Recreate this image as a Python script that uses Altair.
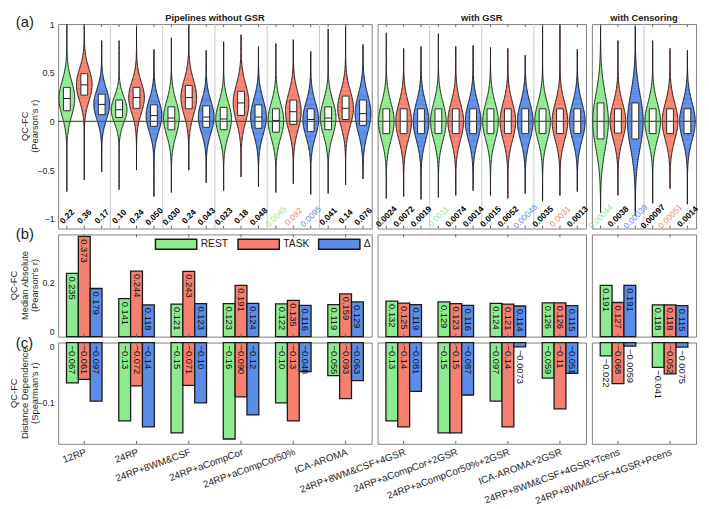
import altair as alt
import numpy as np
import pandas as pd

FONT = "Liberation Sans"

pipelines = ["12RP", "24RP", "24RP+8WM&CSF", "24RP+aCompCor", "24RP+aCompCor50%", "ICA-AROMA",
             "24RP+8WM&CSF+4GSR", "24RP+aCompCor+2GSR", "24RP+aCompCor50%+2GSR", "ICA-AROMA+2GSR",
             "24RP+8WM&CSF+4GSR+Tcens", "24RP+8WM&CSF+4GSR+Pcens"]
group_names = ["Pipelines without GSR", "with GSR", "with Censoring"]
group_sizes = [6, 4, 2]
series = ["REST", "TASK", "Δ"]
series_colors = ["#8EEA8E", "#F6806F", "#5A8CE8"]
highlight_colors = ["#72DE72", "#F26453", "#6C9BF2"]
ytitle_a = ["QC-FC", "(Pearson's r)"]
ytitle_b = ["QC-FC", "Median Absolute", "(Pearson's r)"]
ytitle_c = ["QC-FC", "Distance Dependence", "(Spearman's r)"]

# (a) QC-FC distributions: one row per pipeline, columns [REST, TASK, Δ]
vio_median = [[0.235, 0.376, 0.175], [0.12, 0.245, 0.06], [0.035, 0.245, 0.045], [0.025, 0.19, 0.045],
              [0.01, 0.10, 0.02], [0.035, 0.135, 0.08], [0.0, 0.0, 0.0], [0.0, 0.0, 0.0],
              [0.0, 0.0, 0.0], [0.0, 0.0, 0.0], [0.0, 0.0, 0.0], [0.0, 0.0, 0.0]]
vio_q1 = [[0.11, 0.27, 0.07], [0.04, 0.135, -0.05], [-0.086, 0.13, -0.06], [-0.085, 0.06, -0.07],
          [-0.11, -0.03, -0.105], [-0.085, 0.02, -0.04], [-0.125, -0.125, -0.125], [-0.125, -0.125, -0.125],
          [-0.125, -0.125, -0.125], [-0.125, -0.125, -0.125], [-0.18, -0.12, -0.18], [-0.125, -0.125, -0.125]]
vio_q3 = [[0.35, 0.49, 0.28], [0.22, 0.35, 0.17], [0.15, 0.37, 0.16], [0.145, 0.31, 0.17],
          [0.13, 0.22, 0.13], [0.15, 0.26, 0.22], [0.13, 0.13, 0.13], [0.13, 0.13, 0.13],
          [0.13, 0.13, 0.13], [0.13, 0.13, 0.13], [0.19, 0.13, 0.19], [0.13, 0.13, 0.13]]
vio_low = [[-0.72, -0.60, -0.52], [-0.70, -0.50, -0.77], [-0.73, -0.50, -0.63], [-0.71, -0.57, -0.67],
           [-0.73, -0.64, -0.75], [-0.74, -0.65, -0.59], [-0.79, -0.77, -0.80], [-0.78, -0.76, -0.71],
           [-0.76, -0.79, -0.74], [-0.82, -0.76, -0.72], [-0.94, -0.76, -0.97], [-0.84, -0.69, -0.85]]
vio_high = [[1.0, 1.0, 0.83], [0.83, 1.0, 0.74], [0.86, 1.0, 0.73], [0.82, 0.89, 0.77],
            [0.80, 0.84, 0.72], [0.95, 1.0, 0.79], [0.91, 0.75, 0.77], [0.90, 0.77, 0.78],
            [0.76, 0.75, 0.68], [0.99, 1.0, 0.74], [1.0, 0.83, 0.98], [0.83, 0.75, 0.73]]
pct_edges = [[0.22, 0.36, 0.17], [0.10, 0.24, 0.050], [0.030, 0.24, 0.043], [0.023, 0.18, 0.048],
             [0.0045, 0.092, 0.0095], [0.041, 0.14, 0.076], [0.0024, 0.0072, 0.0019], [0.0011, 0.0074, 0.0014],
             [0.0015, 0.0052, 0.00046], [0.0035, 0.0031, 0.0013], [0.00044, 0.0038, 0.00039],
             [0.00097, 0.00051, 0.0014]]
pct_highlight = [[0, 0, 0], [0, 0, 0], [0, 0, 0], [0, 0, 0], [1, 1, 1], [0, 0, 0],
                 [0, 0, 0], [1, 0, 0], [0, 0, 1], [0, 1, 0], [1, 0, 1], [0, 1, 0]]

# (b) median absolute QC-FC
med_abs = [[0.235, 0.373, 0.179], [0.141, 0.244, 0.118], [0.121, 0.243, 0.123], [0.123, 0.191, 0.124],
           [0.122, 0.135, 0.116], [0.119, 0.159, 0.129], [0.132, 0.125, 0.119], [0.129, 0.123, 0.116],
           [0.124, 0.121, 0.114], [0.126, 0.126, 0.115], [0.191, 0.127, 0.191], [0.118, 0.118, 0.115]]
# (c) distance dependence
dist_dep = [[-0.067, -0.061, -0.097], [-0.13, -0.072, -0.14], [-0.15, -0.071, -0.10], [-0.16, -0.090, -0.12],
            [-0.10, -0.13, -0.048], [-0.055, -0.093, -0.063], [-0.13, -0.14, -0.081], [-0.15, -0.15, -0.087],
            [-0.097, -0.14, -0.0073], [-0.059, -0.11, -0.051], [-0.022, -0.068, -0.0059],
            [-0.041, -0.052, -0.0075]]

WIDTHS = [319, 212, 106]
HA, HB, HC = 208, 104, 103
VHW = 0.15   # violin max half width (in pipeline units)
BHW = 0.065  # box half width
NPTS = 121
LH = 11      # axis title line spacing (px)
INK = "#1a1a1a"
TICK = 3     # inward tick length (px)

stat_rows, vio_rows = [], []
start = 0
for g, n in enumerate(group_sizes):
    for pl in range(n):
        p = start + pl
        for s in range(3):
            base = dict(g=g, pl=pl, s=s, pname=pipelines[p], series=series[s],
                        med=vio_median[p][s], q1=vio_q1[p][s], q3=vio_q3[p][s],
                        pct=pct_edges[p][s], hl=pct_highlight[p][s],
                        mabs=med_abs[p][s], dd=dist_dep[p][s], vid=f"{p}_{s}")
            stat_rows.append(base)
            grid = np.linspace(vio_low[p][s], vio_high[p][s], NPTS)
            for k in range(NPTS):
                r2 = grid[k + 1] if k + 1 < NPTS else grid[k]
                vio_rows.append(dict(g=g, pl=pl, s=s, series=series[s], med=vio_median[p][s],
                                     q1=vio_q1[p][s], q3=vio_q3[p][s], vid=f"{p}_{s}",
                                     r=round(float(grid[k]), 4), r2=round(float(r2), 4)))
    start += n
stats = pd.DataFrame(stat_rows)
vios = pd.DataFrame(vio_rows)

cscale = alt.Scale(domain=series, range=series_colors)


def left_axis(values, flush):
    return alt.Axis(title=None, values=values, format="~g", labelPadding=4, labelFlush=flush)


def text_at(txt, xv, yv, **kw):
    kw.setdefault("color", INK)
    return alt.Chart(pd.DataFrame({"t": [txt]})).mark_text(font=FONT, **kw).encode(
        text="t:N", x=alt.value(xv), y=alt.value(yv))


def ytitle_layers(lines, h):
    n = len(lines)
    out = []
    for i, line in enumerate(lines):
        xv = -23 - (n - 1 - i) * LH
        out.append(text_at(line, xv, h / 2, angle=270, align="center", baseline="middle",
                           fontSize=9.5, color="#262626"))
    return out


def x_ticks(base_chart, xenc, h):
    top = base_chart.mark_rule(color="#666666", strokeWidth=1).encode(
        x=xenc, y=alt.value(0), y2=alt.value(TICK))
    bot = base_chart.mark_rule(color="#666666", strokeWidth=1).encode(
        x=xenc, y=alt.value(h - TICK), y2=alt.value(h))
    return [top, bot]


def panel_a(g):
    n = group_sizes[g]
    xs = alt.Scale(domain=[0, n], nice=False, zero=False)
    ys = alt.Scale(domain=[-1.1, 1.0], nice=False, zero=False)
    yax = left_axis([-1, -0.5, 0, 0.5, 1], False) if g == 0 else None
    dv = vios[vios["g"] == g]
    ds = stats[stats["g"] == g]
    sep = alt.Chart(pd.DataFrame({"b": list(range(1, n))})).mark_rule(
        color="#c6c6c6", strokeWidth=1).encode(x=alt.X("b:Q", scale=xs, axis=None))
    vbase = alt.Chart(dv).transform_calculate(
        sd="(datum.q3 - datum.q1) / 1.35", c="datum.pl + (datum.s + 0.5) / 3",
        rm="(datum.r + datum.r2) / 2"
    ).transform_calculate(
        hw=f"{VHW} * exp(-0.5 * pow((datum.r - datum.med) / datum.sd, 2))",
        hwm=f"{VHW} * exp(-0.5 * pow((datum.rm - datum.med) / datum.sd, 2))"
    ).transform_calculate(
        xl="datum.c - datum.hw", xr="datum.c + datum.hw",
        xlm="datum.c - datum.hwm", xrm="datum.c + datum.hwm"
    )
    vfill = vbase.mark_rect(strokeWidth=0.5).encode(
        y=alt.Y("r:Q", scale=ys, axis=yax), y2="r2:Q",
        x=alt.X("xlm:Q", scale=xs, axis=None), x2="xrm:Q",
        color=alt.Color("series:N", scale=cscale, legend=None),
        stroke=alt.Stroke("series:N", scale=cscale, legend=None))
    vleft = vbase.mark_line(color=INK, strokeWidth=0.9).encode(
        x="xl:Q", y="r:Q", detail="vid:N", order=alt.Order("r:Q"))
    vright = vbase.mark_line(color=INK, strokeWidth=0.9).encode(
        x="xr:Q", y="r:Q", detail="vid:N", order=alt.Order("r:Q"))
    sbase = alt.Chart(ds).transform_calculate(
        c="datum.pl + (datum.s + 0.5) / 3"
    ).transform_calculate(bx1=f"datum.c - {BHW}", bx2=f"datum.c + {BHW}")
    box = sbase.mark_rect(fill="white", stroke=INK, strokeWidth=0.9).encode(
        x="bx1:Q", x2="bx2:Q", y="q1:Q", y2="q3:Q")
    medl = sbase.mark_rule(color=INK, strokeWidth=1).encode(x="bx1:Q", x2="bx2:Q", y="med:Q")
    zero = alt.Chart(pd.DataFrame({"z": [0]})).mark_rule(color="#555555", strokeWidth=1.2).encode(y="z:Q")
    tb = sbase.transform_filter("datum.hl == 0").mark_text(
        angle=315, align="center", baseline="middle", fontSize=8.5, fontWeight="bold", font=FONT, color="black"
    ).encode(x="c:Q", y=alt.datum(-0.975), text=alt.Text("pct:Q", format=".2r"))
    th = sbase.transform_filter("datum.hl == 1").mark_text(
        angle=315, align="center", baseline="middle", fontSize=8.5, font=FONT
    ).encode(x="c:Q", y=alt.datum(-0.975), text=alt.Text("pct:Q", format=".2r"),
             color=alt.Color("series:N", scale=alt.Scale(domain=series, range=highlight_colors), legend=None))
    gtitle = text_at(group_names[g], WIDTHS[g] / 2, -6, fontSize=9.5, fontWeight="bold",
                     align="center", baseline="middle")
    layers = [sep, vfill, vleft, vright, box, medl, zero, tb, th, gtitle] + x_ticks(sbase, "c:Q", HA)
    if g == 0:
        layers.append(text_at("(a)", -43, -2, fontSize=15, align="left", baseline="middle"))
        layers += ytitle_layers(ytitle_a, HA)
    return alt.layer(*layers).properties(width=WIDTHS[g], height=HA)


def bar_x(g, axis):
    pipes_g = list(stats[stats["g"] == g]["pname"].unique())
    return alt.X("pname:N", sort=pipes_g, scale=alt.Scale(paddingInner=0.32, paddingOuter=0.16), axis=axis)


XO = alt.XOffset("series:N", sort=series, scale=alt.Scale(paddingInner=0, paddingOuter=0))


def panel_b(g):
    ds = stats[stats["g"] == g]
    ys = alt.Scale(domain=[0, 0.38], nice=False)
    yax = left_axis([0, 0.2], True) if g == 0 else None
    if g == 0:
        leg = alt.Legend(title=None, orient="none", legendX=98, legendY=4, direction="horizontal",
                         symbolType="M-1,-1H7.4V1H-1Z", symbolSize=100, symbolStrokeColor=INK,
                         symbolStrokeWidth=1.5, symbolOpacity=1, labelOffset=35, columnPadding=6,
                         labelFontSize=10.5, labelFont=FONT, labelColor=INK, padding=0)
    else:
        leg = None
    x = bar_x(g, None)
    bars = alt.Chart(ds).mark_bar(stroke=INK, strokeWidth=1.3, opacity=1).encode(
        x=x, xOffset=XO, y=alt.Y("mabs:Q", scale=ys, axis=yax),
        color=alt.Color("series:N", scale=cscale, legend=leg))
    txt = alt.Chart(ds).mark_text(angle=90, align="left", baseline="middle", dx=3, fontSize=9.5,
                                  font=FONT, color="#111111").encode(
        x=x, xOffset=XO, y="mabs:Q", text=alt.Text("mabs:Q", format=".3f"))
    tbase = alt.Chart(ds).transform_filter("datum.s == 0")
    layers = [bars, txt] + x_ticks(tbase, x, HB)
    if g == 0:
        layers.append(text_at("(b)", -43, 0, fontSize=15, align="left", baseline="middle"))
        layers += ytitle_layers(ytitle_b, HB)
    return alt.layer(*layers).properties(width=WIDTHS[g], height=HB)


def panel_c(g):
    ds = stats[stats["g"] == g]
    ys = alt.Scale(domain=[-0.168, 0], nice=False)
    yax = left_axis([-0.1, 0], True) if g == 0 else None
    xax = alt.Axis(title=None, labelAngle=-20, labelAlign="right", labelBaseline="top", labelPadding=3,
                   labelLimit=0, labelOverlap=False, labelFontSize=10)
    x = bar_x(g, xax)
    bars = alt.Chart(ds).mark_bar(stroke=INK, strokeWidth=1.3, opacity=1).encode(
        x=x, xOffset=XO, y=alt.Y("dd:Q", scale=ys, axis=yax),
        color=alt.Color("series:N", scale=cscale, legend=None))
    txt = alt.Chart(ds).transform_calculate(
        ly="abs(datum.dd) < 0.045 ? datum.dd : 0"
    ).mark_text(angle=90, align="left", baseline="middle", dx=3, fontSize=9.5,
                font=FONT, color="#111111").encode(
        x=x, xOffset=XO, y="ly:Q", text=alt.Text("dd:Q", format=".2r"))
    tbase = alt.Chart(ds).transform_filter("datum.s == 0")
    layers = [bars, txt] + x_ticks(tbase, x, HC)
    if g == 0:
        layers.append(text_at("(c)", -43, 1, fontSize=15, align="left", baseline="middle"))
        layers += ytitle_layers(ytitle_c, HC)
    return alt.layer(*layers).properties(width=WIDTHS[g], height=HC)


charts = [panel_a(g) for g in range(3)] + [panel_b(g) for g in range(3)] + [panel_c(g) for g in range(3)]

chart = alt.concat(*charts, columns=3, spacing=6, bounds="flush", align="each").resolve_legend(
    color="independent"
).properties(padding=0).configure_view(
    stroke="#808080", strokeWidth=1
).configure_axis(
    grid=False, domain=False, ticks=False, labelFont=FONT, titleFont=FONT, labelFontSize=9,
    titleFontSize=9.5, labelColor="#262626", titleColor="#262626", titleFontWeight="normal"
)

chart.save("out.html", embed_options={"renderer": "svg", "actions": False})
